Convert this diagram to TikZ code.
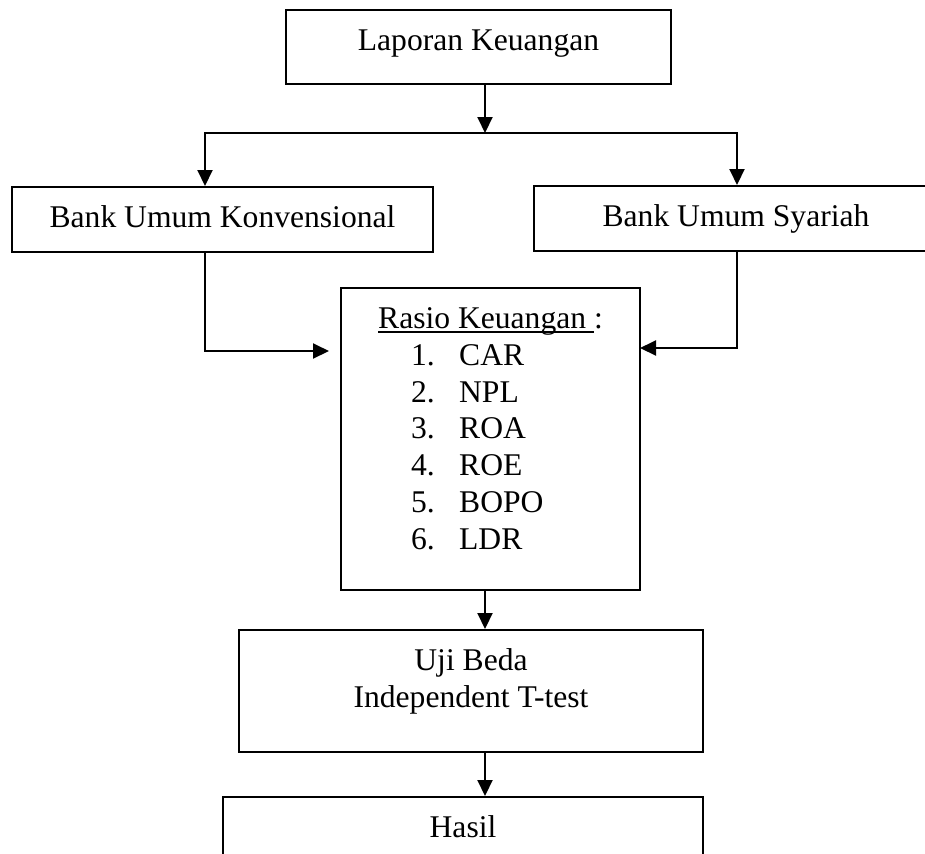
\documentclass[tikz,border=0pt]{standalone}
\usepackage{fontspec}
\setmainfont{Liberation Serif}
\usetikzlibrary{arrows.meta, positioning}
\newcommand\uline[1]{\setbox0\hbox{#1}\rlap{\rule[-2pt]{\wd0}{0.6pt}}\box0}

\begin{document}
\begin{tikzpicture}[x=0.5pt,y=-0.5pt,>={Triangle[length=8pt,width=7.5pt]},
  box/.style={draw, line width=1pt, anchor=north west, inner sep=0pt, text height=20.25pt, font=\fontsize{15.8}{18.4}\selectfont},
  arr/.style={->, line width=1pt}]
\useasboundingbox (0,0) rectangle (925,853);
\clip (0,0) rectangle (925,853);
\node[box, minimum width=192.5pt, text depth=16.75pt] (lap) at (285,9) {Laporan Keuangan};
\node[box, minimum width=210.5pt, text depth=12pt] (buk) at (11,186) {Bank Umum Konvensional};
\node[box, minimum width=202pt, text depth=12.25pt] (bus) at (533,185) {Bank Umum Syariah};
\node[box, minimum width=149.5pt, text depth=130.5pt] (rasio) at (340,287) {\begin{tabular}[t]{@{}l@{}}
  \uline{Rasio Keuangan\ }:\\
  \hspace*{16.5pt}\makebox[24pt][l]{1.}CAR\\
  \hspace*{16.5pt}\makebox[24pt][l]{2.}NPL\\
  \hspace*{16.5pt}\makebox[24pt][l]{3.}ROA\\
  \hspace*{16.5pt}\makebox[24pt][l]{4.}ROE\\
  \hspace*{16.5pt}\makebox[24pt][l]{5.}BOPO\\
  \hspace*{16.5pt}\makebox[24pt][l]{6.}LDR
\end{tabular}};
\node[box, minimum width=232pt, text depth=40.75pt] (uji) at (238,629) {\begin{tabular}[t]{@{}c@{}}Uji Beda\\Independent T-test\end{tabular}};
\node[box, minimum width=240pt, text depth=30pt] (hasil) at (222,796) {Hasil};

\coordinate (split) at (485,133);
\coordinate (splitL) at (205,133);
\coordinate (splitR) at (737,133);
\coordinate (inL) at (329,351);
\coordinate (inR) at (640,348);
\draw[arr] (lap.south -| split) -- (split);
\draw[arr] (split) -| (splitL |- buk.north);
\draw[arr] (split) -| (splitR |- bus.north);
\draw[arr] (splitL |- buk.south) |- (inL);
\draw[arr] (splitR |- bus.south) |- (inR);
\draw[arr] (rasio.south -| split) -- (uji.north -| split);
\draw[arr] (uji.south -| split) -- (hasil.north -| split);
\end{tikzpicture}
\end{document}
